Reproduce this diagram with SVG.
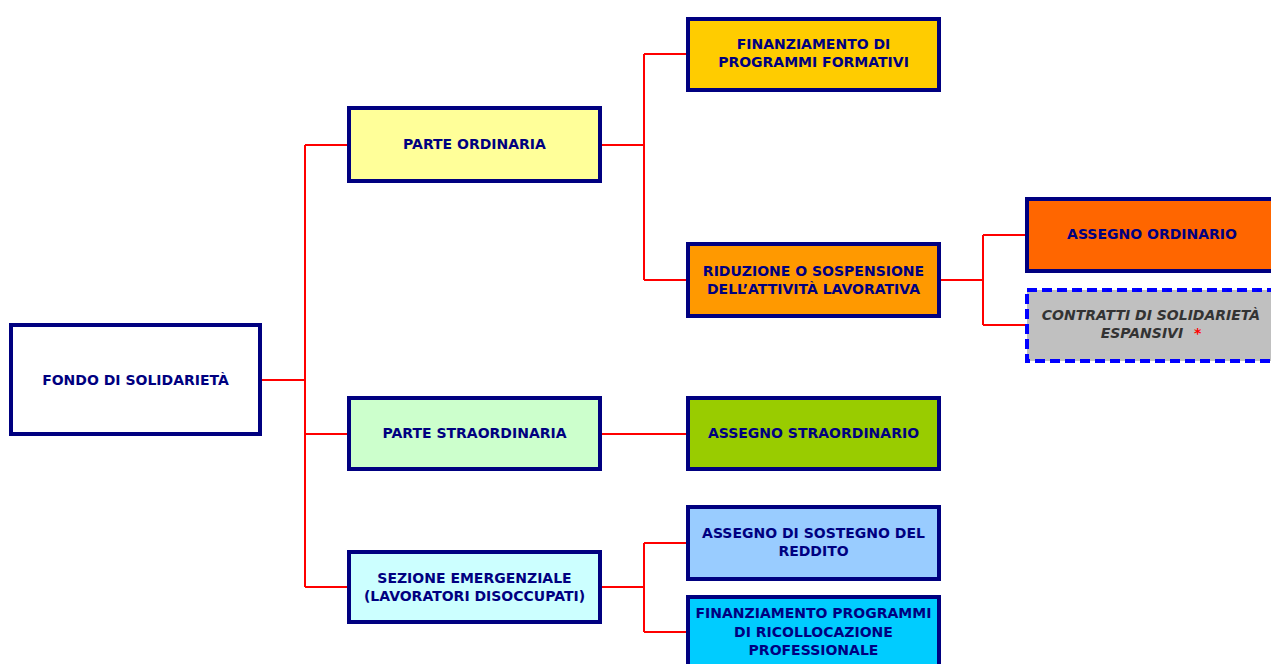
<svg xmlns="http://www.w3.org/2000/svg" width="1271" height="664" viewBox="0 0 1271 664">
<style>
.box{stroke:#000080;stroke-width:4}
.dash{stroke:#0000FF;stroke-width:4;stroke-dasharray:10 5}
text{font-family:"DejaVu Sans",Verdana,sans-serif;font-weight:bold;font-size:14px;fill:#000080;text-anchor:middle}
.it{font-style:italic;fill:#333333}
.red{fill:#FF0000}
.con{stroke:#FF0000;stroke-width:2;fill:none}
</style>
<rect width="1271" height="664" fill="#FFFFFF"/>
<g id="connectors">
<path class="con" d="M262 380H305M305 145V587M305 145H347M305 434H347M305 587H347"/>
<path class="con" d="M602 145H644M644 54V280M644 54H686M644 280H686"/>
<path class="con" d="M941 280H983M983 235V325M983 235H1025M983 325H1025"/>
<path class="con" d="M602 434H686"/>
<path class="con" d="M602 587H644M644 543V632M644 543H686M644 632H686"/>
</g>
<g id="fondo">
<rect class="box" x="11" y="325" width="249" height="109" fill="#FFFFFF"/>
<text x="135.5" y="385">FONDO DI SOLIDARIETÀ</text>
</g>
<g id="parte-ordinaria">
<rect class="box" x="349" y="108" width="251" height="73" fill="#FFFF99"/>
<text x="474.5" y="149">PARTE ORDINARIA</text>
</g>
<g id="finanziamento-formativi">
<rect class="box" x="688" y="19" width="251" height="71" fill="#FFCC00"/>
<text x="813.5" y="49">FINANZIAMENTO DI</text>
<text x="813.5" y="67">PROGRAMMI FORMATIVI</text>
</g>
<g id="riduzione">
<rect class="box" x="688" y="244" width="251" height="72" fill="#FF9900"/>
<text x="813.5" y="276">RIDUZIONE O SOSPENSIONE</text>
<text x="813.5" y="294">DELL’ATTIVITÀ LAVORATIVA</text>
</g>
<g id="assegno-ordinario">
<rect class="box" x="1027" y="199" width="251" height="72" fill="#FF6600"/>
<text x="1152" y="239">ASSEGNO ORDINARIO</text>
</g>
<g id="contratti">
<rect class="dash" x="1027" y="290" width="251" height="71" fill="#C0C0C0"/>
<text class="it" x="1151" y="320">CONTRATTI DI SOLIDARIETÀ</text>
<text class="it" x="1151" y="338">ESPANSIVI <tspan class="red" dx="6">*</tspan></text>
</g>
<g id="parte-straordinaria">
<rect class="box" x="349" y="398" width="251" height="71" fill="#CCFFCC"/>
<text x="474.5" y="438">PARTE STRAORDINARIA</text>
</g>
<g id="assegno-straordinario">
<rect class="box" x="688" y="398" width="251" height="71" fill="#99CC00"/>
<text x="813.5" y="438">ASSEGNO STRAORDINARIO</text>
</g>
<g id="sezione-emergenziale">
<rect class="box" x="349" y="552" width="251" height="70" fill="#CCFFFF"/>
<text x="474.5" y="583">SEZIONE EMERGENZIALE</text>
<text x="474.5" y="601">(LAVORATORI DISOCCUPATI)</text>
</g>
<g id="assegno-sostegno">
<rect class="box" x="688" y="507" width="251" height="72" fill="#99CCFF"/>
<text x="813.5" y="538">ASSEGNO DI SOSTEGNO DEL</text>
<text x="813.5" y="556">REDDITO</text>
</g>
<g id="finanziamento-ricollocazione">
<rect class="box" x="688" y="597" width="251" height="80" fill="#00CCFF"/>
<text x="813.5" y="618">FINANZIAMENTO PROGRAMMI</text>
<text x="813.5" y="637">DI RICOLLOCAZIONE</text>
<text x="813.5" y="655">PROFESSIONALE</text>
</g>
</svg>
